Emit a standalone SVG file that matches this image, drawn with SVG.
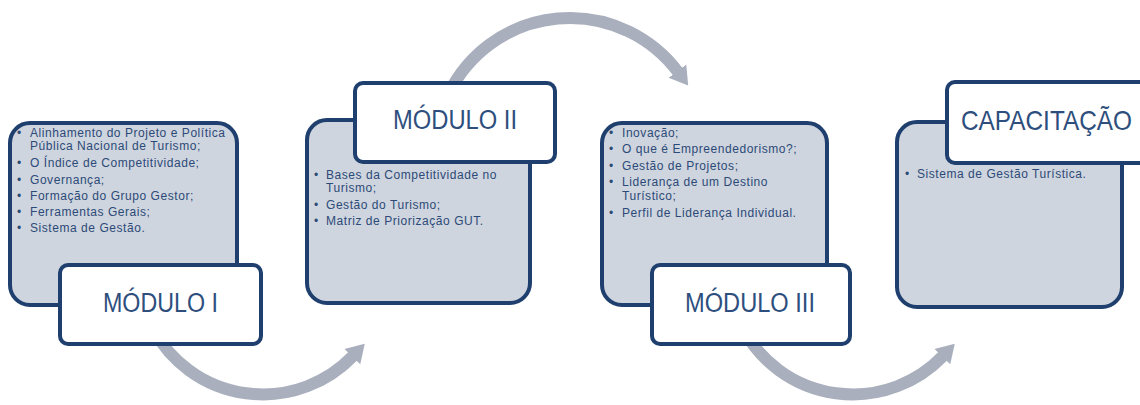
<svg xmlns="http://www.w3.org/2000/svg" width="1140" height="405" viewBox="0 0 1140 405">
<defs>
<style>
.box{fill:#cfd5de;stroke:#1f3f6e;stroke-width:4}
.lab{fill:#ffffff;stroke:#1f3f6e;stroke-width:4}
.t{font-family:"Liberation Sans",Arial,sans-serif;font-size:12px;letter-spacing:0.55px;fill:#2c4a78}
.h{font-family:"Liberation Sans",Arial,sans-serif;font-size:27px;fill:#2e4f7e}
.arc{fill:none;stroke:#a9afbd;stroke-width:12}
</style>
<marker id="ah" markerUnits="userSpaceOnUse" markerWidth="24" markerHeight="30" refX="1" refY="12" orient="auto">
<path d="M0,1 L18,12 L0,23 Z" fill="#a9afbd"/>
</marker>
</defs>
<g id="connectors">
<path class="arc" d="M153,329 A125,125 0 0 0 353,356" marker-end="url(#ah)"/>
<path class="arc" d="M449,93 A135,135 0 0 1 678,72" marker-end="url(#ah)"/>
<path class="arc" d="M743,329 A125,125 0 0 0 943,356" marker-end="url(#ah)"/>
</g>
<g id="modulo1">
<rect class="box" x="10" y="123" width="227" height="182" rx="20"/>
<g class="t">
<text x="17" y="137">•</text><text x="30" y="137">Alinhamento do Projeto e Política</text>
<text x="30" y="150">Pública Nacional de Turismo;</text>
<text x="17" y="167">•</text><text x="30" y="167">O Índice de Competitividade;</text>
<text x="17" y="184">•</text><text x="30" y="184">Governança;</text>
<text x="17" y="200">•</text><text x="30" y="200">Formação do Grupo Gestor;</text>
<text x="17" y="216">•</text><text x="30" y="216">Ferramentas  Gerais;</text>
<text x="17" y="232">•</text><text x="30" y="232">Sistema de Gestão.</text>
</g>
<rect class="lab" x="60" y="265" width="201" height="79" rx="8"/>
<text class="h" x="103" y="312" textLength="115" lengthAdjust="spacingAndGlyphs">MÓDULO I</text>
</g>
<g id="modulo2">
<rect class="box" x="307" y="120" width="223" height="183" rx="20"/>
<g class="t">
<text x="314" y="179">•</text><text x="326" y="179">Bases  da Competitividade no</text>
<text x="326" y="192">Turismo;</text>
<text x="314" y="209">•</text><text x="326" y="209">Gestão do Turismo;</text>
<text x="314" y="225">•</text><text x="326" y="225">Matriz de Priorização GUT.</text>
</g>
<rect class="lab" x="355" y="83" width="200" height="79" rx="8"/>
<text class="h" x="393" y="129" textLength="124" lengthAdjust="spacingAndGlyphs">MÓDULO II</text>
</g>
<g id="modulo3">
<rect class="box" x="602" y="123" width="225" height="182" rx="20"/>
<g class="t">
<text x="609" y="137">•</text><text x="622" y="137">Inovação;</text>
<text x="609" y="153">•</text><text x="622" y="153">O que é Empreendedorismo?;</text>
<text x="609" y="170">•</text><text x="622" y="170">Gestão de Projetos;</text>
<text x="609" y="186">•</text><text x="622" y="186">Liderança de um Destino</text>
<text x="622" y="200">Turístico;</text>
<text x="609" y="217">•</text><text x="622" y="217">Perfil de Liderança Individual.</text>
</g>
<rect class="lab" x="652" y="265" width="198" height="79" rx="8"/>
<text class="h" x="685" y="312" textLength="130" lengthAdjust="spacingAndGlyphs">MÓDULO III</text>
</g>
<g id="capacitacao">
<rect class="box" x="897" y="122" width="225" height="185" rx="20"/>
<g class="t">
<text x="905" y="178">•</text><text x="917" y="178">Sistema de Gestão Turística.</text>
</g>
<rect class="lab" x="947" y="82" width="205" height="81" rx="8"/>
<text class="h" transform="translate(961,130) scale(1,1.13)" x="0" y="0" style="font-size:24px" textLength="171" lengthAdjust="spacingAndGlyphs">CAPACITAÇÃO</text>
</g>
</svg>
